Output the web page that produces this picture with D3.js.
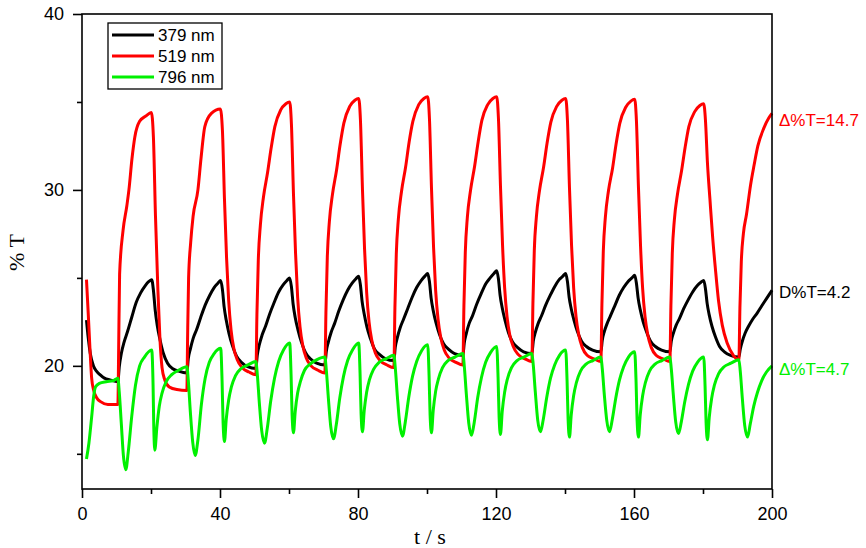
<!DOCTYPE html>
<html>
<head>
<meta charset="utf-8">
<script src="https://d3js.org/d3.v7.min.js"></script>
<style>
  body { margin: 0; background: #fff; }
  svg { display: block; }
</style>
</head>
<body>
<div id="container"></div>
<script>
var WIDTH = 866;
var HEIGHT = 548;
var MARGIN = { TOP: 14, BOTTOM: 59, LEFT: 82, RIGHT: 94 };

var width = WIDTH - MARGIN.LEFT - MARGIN.RIGHT;
var height = HEIGHT - MARGIN.TOP - MARGIN.BOTTOM;

// tick values
const xMajor = [0, 40, 80, 120, 160, 200];
const xMinor = [20, 60, 100, 140, 180];
const yMajor = [20, 30, 40];
const yMinor = [15, 25, 35];

const seriesNames = ['379 nm', '519 nm', '796 nm'];
const seriesColors = ['#000000', '#ff0000', '#00f000'];
const deltaLabels = ['D%T=4.2', '\u0394%T=14.7', '\u0394%T=4.7'];

// [t (s), %T]
const s379 = [
  [1.3,22.6],[1.8,21.6],[2.4,20.7],[3.3,20.0],[4.2,19.7],[5.2,19.5],[6.5,19.3],[8.1,19.2],[10.4,19.1],
  [10.8,19.95],[11.4,20.7],[12.2,21.35],[13.2,21.95],[14.4,22.75],[15.7,23.6],[17.0,24.15],[18.3,24.55],[19.4,24.8],[20.2,24.9],
  [20.7,24.3],[21.2,23.2],[21.8,22.3],[22.6,21.5],[23.6,20.7],[24.8,20.15],[26.2,19.85],[28.0,19.7],[30.4,19.6],
  [30.8,20.4],[31.4,20.95],[32.2,21.55],[33.2,22.05],[34.4,22.75],[35.7,23.45],[37.0,24.0],[38.3,24.45],[39.4,24.7],[40.2,24.85],
  [40.7,24.35],[41.2,23.35],[41.8,22.6],[42.6,21.85],[43.6,21.15],[44.8,20.55],[46.2,20.2],[48.0,19.95],[50.4,19.85],
  [50.8,20.6],[51.4,21.2],[52.2,21.75],[53.2,22.25],[54.4,22.95],[55.7,23.6],[57.0,24.2],[58.3,24.6],[59.4,24.85],[60.2,25.0],
  [60.7,24.5],[61.2,23.5],[61.8,22.75],[62.6,22.05],[63.6,21.35],[64.8,20.75],[66.2,20.4],[68.0,20.15],[70.4,20.05],
  [70.8,20.8],[71.4,21.35],[72.2,21.9],[73.2,22.4],[74.4,23.1],[75.7,23.75],[77.0,24.3],[78.3,24.7],[79.4,24.95],[80.2,25.1],
  [80.7,24.6],[81.2,23.65],[81.8,22.95],[82.6,22.2],[83.6,21.55],[84.8,20.95],[86.2,20.65],[88.0,20.4],[90.4,20.3],
  [90.8,21.05],[91.4,21.6],[92.2,22.15],[93.2,22.65],[94.4,23.25],[95.7,23.9],[97.0,24.45],[98.3,24.85],[99.4,25.1],[100.2,25.25],
  [100.7,24.8],[101.2,23.85],[101.8,23.15],[102.6,22.45],[103.6,21.8],[104.8,21.25],[106.2,20.95],[108.0,20.7],[110.4,20.6],
  [110.8,21.3],[111.4,21.85],[112.2,22.4],[113.2,22.85],[114.4,23.5],[115.7,24.1],[117.0,24.65],[118.3,25.0],[119.4,25.25],[120.2,25.4],
  [120.7,24.95],[121.2,24.0],[121.8,23.3],[122.6,22.6],[123.6,21.9],[124.8,21.35],[126.2,21.05],[128.0,20.8],[130.4,20.7],
  [130.8,21.4],[131.4,21.9],[132.2,22.4],[133.2,22.85],[134.4,23.45],[135.7,24.0],[137.0,24.5],[138.3,24.9],[139.4,25.1],[140.2,25.25],
  [140.7,24.8],[141.2,23.9],[141.8,23.25],[142.6,22.6],[143.6,21.95],[144.8,21.4],[146.2,21.1],[148.0,20.9],[150.4,20.8],
  [150.8,21.45],[151.4,21.95],[152.2,22.4],[153.2,22.85],[154.4,23.4],[155.7,24.0],[157.0,24.45],[158.3,24.8],[159.4,25.0],[160.2,25.15],
  [160.7,24.7],[161.2,23.85],[161.8,23.2],[162.6,22.55],[163.6,21.95],[164.8,21.4],[166.2,21.1],[168.0,20.9],[170.4,20.8],
  [170.8,21.4],[171.4,21.85],[172.2,22.3],[173.2,22.7],[174.4,23.25],[175.7,23.75],[177.0,24.2],[178.3,24.55],[179.4,24.75],[180.2,24.85],
  [180.7,24.4],[181.2,23.55],[181.8,22.9],[182.6,22.25],[183.6,21.65],[184.8,21.1],[186.2,20.8],[188.0,20.6],[190.4,20.5],
  [190.8,20.95],[191.4,21.4],[192.2,21.85],[193.2,22.25],[194.4,22.65],[195.7,23.0],[197.0,23.4],[198.5,23.85],[200,24.3]
];

const s519 = [
  [1.3,24.9],[1.8,23.0],[2.3,21.0],[2.8,19.3],[3.4,18.6],[4.2,18.2],[5.5,17.95],[7.5,17.8],[10.4,17.8],
  [10.6,20.5],[10.9,25.2],[11.9,27.7],[13.0,29.1],[13.6,30.0],[14.5,31.8],[15.3,33.0],[16.7,33.9],[18.5,34.2],[20.1,34.4],
  [20.7,33.0],[21.3,28.5],[22.0,24.3],[22.6,21.5],[23.2,19.9],[24.0,19.2],[25.3,18.8],[27.5,18.65],[30.4,18.6],
  [30.6,21.5],[30.9,25.0],[31.5,27.0],[32.2,28.5],[33.6,30.0],[34.5,31.8],[35.6,33.6],[37.5,34.35],[40.1,34.6],
  [40.7,33.4],[41.3,29.45],[41.9,26.15],[42.5,23.75],[43.2,22.05],[44.0,21.0],[45.0,20.35],[46.4,19.9],[48.4,19.65],[50.4,19.5],
  [50.7,22.9],[51.1,26.0],[51.7,28.0],[52.6,29.6],[53.8,31.0],[54.8,32.35],[55.9,33.6],[57.6,34.55],[59.1,34.9],[60.2,35.0],
  [60.7,33.75],[61.3,29.75],[61.9,26.4],[62.5,23.9],[63.2,22.2],[64.0,21.15],[65.0,20.45],[66.4,20.0],[68.4,19.75],[70.4,19.6],
  [70.7,23.0],[71.1,26.15],[71.7,28.2],[72.6,29.75],[73.8,31.15],[74.8,32.55],[75.9,33.8],[77.6,34.75],[79.1,35.1],[80.2,35.2],
  [80.7,34.0],[81.3,30.0],[81.9,26.65],[82.5,24.2],[83.2,22.5],[84.0,21.45],[85.0,20.75],[86.4,20.3],[88.4,20.05],[90.4,19.9],
  [90.7,23.3],[91.1,26.35],[91.7,28.35],[92.6,29.9],[93.8,31.3],[94.8,32.7],[95.9,33.9],[97.6,34.85],[99.1,35.2],[100.2,35.3],
  [100.7,34.1],[101.3,30.1],[101.9,26.75],[102.5,24.3],[103.2,22.65],[104.0,21.6],[105.0,20.9],[106.4,20.45],[108.4,20.2],[110.4,20.05],
  [110.7,23.4],[111.1,26.45],[111.7,28.45],[112.6,29.95],[113.8,31.35],[114.8,32.7],[115.9,33.95],[117.6,34.85],[119.1,35.2],[120.2,35.3],
  [120.7,34.1],[121.3,30.2],[121.9,26.85],[122.5,24.45],[123.2,22.8],[124.0,21.75],[125.0,21.1],[126.4,20.65],[128.4,20.4],[130.4,20.25],
  [130.7,23.55],[131.1,26.55],[131.7,28.45],[132.6,29.95],[133.8,31.3],[134.8,32.65],[135.9,33.85],[137.6,34.75],[139.1,35.1],[140.2,35.2],
  [140.7,34.0],[141.3,30.1],[141.9,26.85],[142.5,24.45],[143.2,22.8],[144.0,21.75],[145.0,21.05],[146.4,20.6],[148.4,20.4],[150.4,20.25],
  [150.7,23.5],[151.1,26.5],[151.7,28.45],[152.6,29.95],[153.8,31.25],[154.8,32.6],[155.9,33.8],[157.6,34.7],[159.1,35.05],[160.2,35.15],
  [160.7,33.95],[161.3,30.1],[161.9,26.8],[162.5,24.4],[163.2,22.8],[164.0,21.75],[165.0,21.05],[166.4,20.6],[168.4,20.4],[170.4,20.25],
  [170.7,23.45],[171.1,26.4],[171.7,28.3],[172.6,29.75],[173.8,31.1],[174.8,32.4],[175.9,33.6],[177.6,34.45],[179.1,34.8],[180.2,34.9],
  [180.7,34.0],[181.3,31.5],[182.0,29.5],[182.8,27.3],[183.6,25.5],[184.5,23.7],[185.6,22.3],[187.0,21.3],[188.8,20.6],[190.4,20.35],
  [190.7,23.3],[191.1,25.9],[191.7,27.5],[192.6,28.6],[193.8,30.3],[194.8,31.4],[195.9,32.5],[197.6,33.5],[199.1,34.1],[200,34.35]
];

const s796 = [
  [1.3,14.7],[2.0,15.6],[2.8,17.1],[3.4,18.3],[3.9,18.8],[5.0,19.0],[7.0,19.1],[9.0,19.15],[10.4,19.3],
  [10.8,18.5],[11.4,16.7],[12.0,14.9],[12.7,14.1],[13.4,15.1],[14.4,17.1],[15.5,18.9],[16.7,20.0],[18.1,20.5],[20.2,20.9],
  [20.6,18.9],[20.8,16.6],[21.1,15.2],[21.7,16.5],[22.4,17.7],[23.2,18.45],[24.4,19.1],[26.0,19.5],[28.0,19.75],[30.4,19.95],
  [30.8,19.2],[31.4,17.4],[32.1,15.65],[32.8,14.9],[33.6,15.8],[34.6,17.8],[35.7,19.3],[36.9,20.2],[38.3,20.7],[40.2,21.0],
  [40.6,19.15],[40.9,16.75],[41.3,15.7],[41.8,16.95],[42.5,18.05],[43.3,18.8],[44.5,19.45],[46.1,19.85],[48.1,20.05],[50.4,20.25],
  [50.8,19.55],[51.4,17.9],[52.1,16.3],[52.9,15.6],[53.7,16.45],[54.7,18.0],[55.8,19.3],[57.0,20.25],[58.4,20.9],[60.2,21.3],
  [60.6,19.5],[60.9,17.2],[61.3,16.2],[61.8,17.4],[62.5,18.45],[63.3,19.1],[64.5,19.75],[66.1,20.1],[68.1,20.35],[70.4,20.5],
  [70.8,19.8],[71.4,18.2],[72.1,16.55],[72.9,15.85],[73.7,16.65],[74.7,18.15],[75.8,19.4],[77.0,20.3],[78.4,20.9],[80.2,21.3],
  [80.6,19.55],[80.9,17.25],[81.3,16.25],[81.8,17.45],[82.5,18.5],[83.3,19.2],[84.5,19.8],[86.1,20.2],[88.1,20.4],[90.4,20.6],
  [90.8,19.9],[91.4,18.3],[92.1,16.7],[92.9,16.0],[93.7,16.8],[94.7,18.2],[95.8,19.4],[97.0,20.25],[98.4,20.85],[100.2,21.2],
  [100.6,19.45],[100.9,17.2],[101.3,16.2],[101.8,17.45],[102.5,18.55],[103.3,19.25],[104.5,19.9],[106.1,20.3],[108.1,20.5],[110.4,20.7],
  [110.8,20.0],[111.4,18.4],[112.1,16.75],[112.9,16.05],[113.7,16.8],[114.7,18.2],[115.8,19.35],[117.0,20.2],[118.4,20.75],[120.2,21.1],
  [120.6,19.35],[120.9,17.1],[121.3,16.1],[121.8,17.4],[122.5,18.5],[123.3,19.25],[124.5,19.9],[126.1,20.3],[128.1,20.5],[130.4,20.7],
  [130.8,20.05],[131.4,18.5],[132.1,16.9],[132.9,16.25],[133.7,16.95],[134.7,18.2],[135.8,19.3],[137.0,20.05],[138.4,20.6],[140.2,20.9],
  [140.6,19.15],[140.9,16.95],[141.3,15.95],[141.8,17.2],[142.5,18.3],[143.3,19.05],[144.5,19.7],[146.1,20.1],[148.1,20.3],[150.4,20.5],
  [150.8,19.85],[151.4,18.35],[152.1,16.9],[152.9,16.25],[153.7,16.95],[154.7,18.15],[155.8,19.2],[157.0,19.95],[158.4,20.5],[160.2,20.8],
  [160.6,19.1],[160.9,16.9],[161.3,15.95],[161.8,17.2],[162.5,18.3],[163.3,19.05],[164.5,19.7],[166.1,20.1],[168.1,20.3],[170.4,20.5],
  [170.8,19.85],[171.4,18.35],[172.1,16.8],[172.9,16.15],[173.7,16.8],[174.7,17.95],[175.8,18.95],[177.0,19.7],[178.4,20.2],[180.2,20.5],
  [180.6,18.85],[180.9,16.75],[181.3,15.8],[181.8,17.05],[182.5,18.15],[183.3,18.9],[184.5,19.55],[186.1,19.95],[188.1,20.15],[190.4,20.35],
  [190.8,19.7],[191.4,18.15],[192.1,16.6],[192.9,15.95],[193.7,16.7],[194.7,17.7],[195.8,18.5],[197.0,19.15],[198.4,19.65],[200,20.0]
];

const allSeries = [s379, s519, s796];
// value each delta label sits next to, at the right edge
const deltaAt = [24.2, 34.0, 19.8];

const svg = d3.select('#container')
  .append('svg')
    .attr('width', WIDTH)
    .attr('height', HEIGHT)
    .style('font-family', '"Liberation Sans", Arial, sans-serif');

const container = svg.append('g')
    .attr('transform', `translate(${MARGIN.LEFT}, ${MARGIN.TOP})`);

const x = d3.scaleLinear().domain([0, 200]).range([0, width]);
const y = d3.scaleLinear().domain([13, 40]).range([height, 0]);

// lines
const line = d3.line()
  .x(d => x(d[0]))
  .y(d => y(d[1]))
  .curve(d3.curveMonotoneX);

container.selectAll('.trace')
  .data(allSeries)
  .enter()
  .append('path')
    .attr('class', 'trace')
    .attr('d', d => line(d))
    .attr('fill', 'none')
    .attr('stroke', (d, i) => seriesColors[i])
    .attr('stroke-width', 3)
    .attr('stroke-linejoin', 'round');

// frame
container.append('rect')
  .attr('width', width)
  .attr('height', height)
  .attr('fill', 'none')
  .attr('stroke', '#000')
  .attr('stroke-width', 1.6);

// axes
function styleAxis(g) {
  g.select('.domain').remove();
  g.selectAll('.tick line').attr('stroke', '#000').attr('stroke-width', 1.6);
  g.selectAll('.tick text').attr('fill', '#000').style('font-size', '18px')
    .style('font-family', '"Liberation Sans", Arial, sans-serif');
}

container.append('g')
  .attr('transform', `translate(0, ${height})`)
  .call(d3.axisBottom(x).tickValues(xMajor).tickSize(9).tickPadding(9).tickFormat(d3.format('d')))
  .call(styleAxis);

container.append('g')
  .attr('transform', `translate(0, ${height})`)
  .call(d3.axisBottom(x).tickValues(xMinor).tickSize(5).tickFormat(''))
  .call(styleAxis);

container.append('g')
  .call(d3.axisLeft(y).tickValues(yMajor).tickSize(9).tickPadding(9).tickFormat(d3.format('d')))
  .call(styleAxis);

container.append('g')
  .call(d3.axisLeft(y).tickValues(yMinor).tickSize(5).tickFormat(''))
  .call(styleAxis);

// axis titles
svg.append('text')
  .attr('transform', `translate(24, ${MARGIN.TOP + height / 2 + 1}) rotate(-90)`)
  .attr('text-anchor', 'middle')
  .style('font-family', '"Liberation Serif", "Times New Roman", serif')
  .style('font-size', '22px')
  .text('% T');

svg.append('text')
  .attr('x', MARGIN.LEFT + width / 2 + 3)
  .attr('y', 544)
  .attr('text-anchor', 'middle')
  .style('font-family', '"Liberation Serif", "Times New Roman", serif')
  .style('font-size', '22px')
  .text('t / s');

// legend
const legend = svg.append('g').attr('transform', 'translate(108, 23)');

legend.append('rect')
  .attr('width', 114)
  .attr('height', 66)
  .attr('fill', '#fff')
  .attr('stroke', '#000')
  .attr('stroke-width', 1.3);

const items = legend.selectAll('.item')
  .data(seriesNames)
  .enter()
  .append('g')
    .attr('class', 'item')
    .attr('transform', (d, i) => `translate(0, ${12 + i * 21})`);

items.append('line')
  .attr('x1', 4)
  .attr('x2', 46)
  .attr('stroke', (d, i) => seriesColors[i])
  .attr('stroke-width', 3);

items.append('text')
  .attr('x', 50)
  .attr('dy', '0.35em')
  .style('font-size', '17px')
  .text(d => d);

// delta labels at right edge
svg.selectAll('.delta')
  .data(deltaLabels)
  .enter()
  .append('text')
    .attr('class', 'delta')
    .attr('x', MARGIN.LEFT + width + 7)
    .attr('y', (d, i) => MARGIN.TOP + y(deltaAt[i]))
    .attr('dy', '0.35em')
    .attr('fill', (d, i) => seriesColors[i])
    .style('font-size', '17px')
    .text(d => d);
</script>
</body>
</html>
